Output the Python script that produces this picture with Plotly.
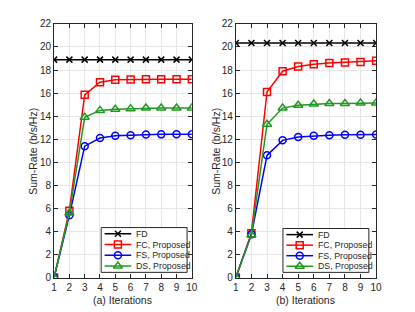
import plotly.graph_objects as go

iters = list(range(1, 11))

# Panel (a)
a_fd = [18.9] * 10
a_fc = [0.0, 5.8, 15.85, 16.95, 17.15, 17.18, 17.2, 17.2, 17.2, 17.2]
a_fs = [0.0, 5.4, 11.4, 12.1, 12.3, 12.35, 12.4, 12.42, 12.43, 12.43]
a_ds = [0.0, 5.6, 13.9, 14.5, 14.6, 14.65, 14.7, 14.7, 14.7, 14.7]

# Panel (b)
b_fd = [20.35] * 10
b_fc = [0.0, 3.85, 16.1, 17.9, 18.3, 18.5, 18.6, 18.65, 18.7, 18.8]
b_fs = [0.0, 3.75, 10.6, 11.9, 12.2, 12.3, 12.35, 12.38, 12.38, 12.4]
b_ds = [0.0, 3.7, 13.3, 14.7, 14.95, 15.05, 15.1, 15.1, 15.15, 15.15]

names = ["FD", "FC, Proposed", "FS, Proposed", "DS, Proposed"]
colors = ["#000000", "#ff0000", "#0000ff", "#1f9a1f"]
symbols = ["x-thin", "square-open", "circle-open", "triangle-up-open"]
msizes = [6, 7, 7, 8]
xtitles = ["(a) Iterations", "(b) Iterations"]
ytitle = "Sum-Rate (b/s/Hz)"
ytick_vals = list(range(0, 23, 2))

TXT = "#262626"
FAM = "Liberation Sans, Arial, sans-serif"
font = dict(family=FAM, size=10, color=TXT)

fig = go.Figure()
panels = [[a_fd, a_fc, a_fs, a_ds], [b_fd, b_fc, b_fs, b_ds]]
for p, series in enumerate(panels):
    xa = "x" if p == 0 else "x2"
    ya = "y" if p == 0 else "y2"
    for i, ys in enumerate(series):
        fig.add_trace(go.Scatter(
            x=iters, y=ys, mode="lines+markers", name=names[i],
            xaxis=xa, yaxis=ya, showlegend=False,
            line=dict(color=colors[i], width=1.5),
            marker=dict(symbol=symbols[i], size=msizes[i], color=colors[i],
                        line=dict(color=colors[i], width=1.5)),
        ))

# Hand-built legends (plotly's own legend rows are too tall for this layout)
legend_boxes = [([0.222, 0.434], [0.151, 0.298]), ([0.660, 0.872], [0.151, 0.295])]
row_y = [0.86, 0.62, 0.38, 0.14]
line_x = [0.04, 0.35]
mark_x = 0.195
text_x = 0.38
annotations = []
for p, (dx, dy) in enumerate(legend_boxes):
    xa = "x%d" % (p + 3)
    ya = "y%d" % (p + 3)
    fig.add_trace(go.Scatter(
        x=[0, 1, 1, 0, 0], y=[0, 0, 1, 1, 0], mode="lines", fill="toself",
        fillcolor="white", line=dict(color=TXT, width=1),
        xaxis=xa, yaxis=ya, showlegend=False, hoverinfo="skip"))
    for i in range(4):
        fig.add_trace(go.Scatter(
            x=line_x, y=[row_y[i]] * 2, mode="lines",
            line=dict(color=colors[i], width=1.5),
            xaxis=xa, yaxis=ya, showlegend=False, hoverinfo="skip"))
        fig.add_trace(go.Scatter(
            x=[mark_x], y=[row_y[i]], mode="markers",
            marker=dict(symbol=symbols[i], size=msizes[i], color=colors[i],
                        line=dict(color=colors[i], width=1.5)),
            xaxis=xa, yaxis=ya, showlegend=False, hoverinfo="skip"))
        annotations.append(dict(
            x=text_x, y=row_y[i], xref=xa, yref=ya, text=names[i],
            showarrow=False, xanchor="left", yanchor="middle",
            font=dict(family=FAM, size=8.8, color=TXT)))

# Axis titles placed as paper annotations for precise positioning
title_font = dict(family=FAM, size=10.5, color=TXT)
for xc in [0.060, 0.501]:
    annotations.append(dict(x=xc, y=0.542, xref="paper", yref="paper", text=ytitle,
                            textangle=-90, showarrow=False, xanchor="center",
                            yanchor="middle", font=title_font))
for xc, t in zip([0.277, 0.717], xtitles):
    annotations.append(dict(x=xc, y=0.064, xref="paper", yref="paper", text=t,
                            showarrow=False, xanchor="center", yanchor="middle",
                            font=title_font))

axis_common = dict(
    showline=True, linecolor=TXT, linewidth=1, mirror="ticks",
    ticks="inside", ticklen=4, tickcolor=TXT,
    showgrid=True, gridcolor="#e6e6e6", gridwidth=1, zeroline=False,
    tickfont=font, automargin=False,
)
hidden = dict(visible=False, showgrid=False, zeroline=False, automargin=False,
              range=[-0.012, 1.012], fixedrange=True)

layout = dict(
    width=415, height=312, margin=dict(l=0, r=0, t=0, b=0),
    paper_bgcolor="white", plot_bgcolor="white", font=font,
    annotations=annotations, showlegend=False,
    xaxis=dict(domain=[0.111, 0.443], range=[1, 10], tickvals=iters,
               anchor="y", **axis_common),
    yaxis=dict(domain=[0.136, 0.949], range=[0, 22], tickvals=ytick_vals,
               anchor="x", **axis_common),
    xaxis2=dict(domain=[0.549, 0.887], range=[1, 10], tickvals=iters,
                anchor="y2", **axis_common),
    yaxis2=dict(domain=[0.136, 0.949], range=[0, 22], tickvals=ytick_vals,
                anchor="x2", **axis_common),
)
for p, (dx, dy) in enumerate(legend_boxes):
    layout["xaxis%d" % (p + 3)] = dict(domain=dx, anchor="y%d" % (p + 3), **hidden)
    layout["yaxis%d" % (p + 3)] = dict(domain=dy, anchor="x%d" % (p + 3), **hidden)
fig.update_layout(**layout)

fig.write_html("out.html")
